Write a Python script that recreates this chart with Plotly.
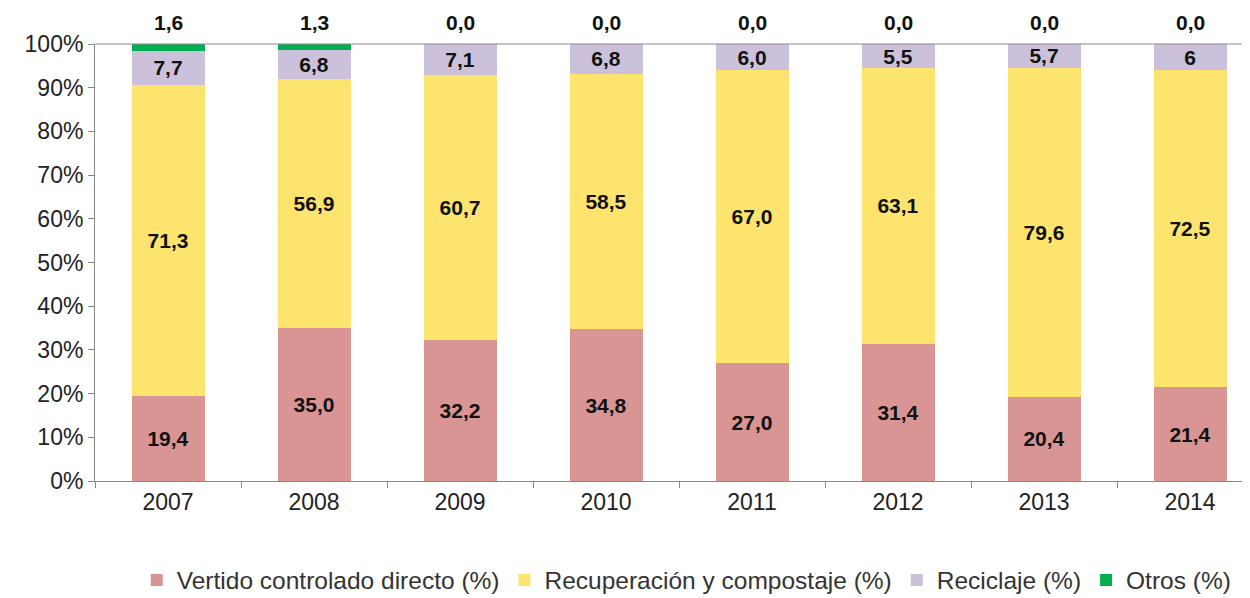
import plotly.graph_objects as go

years = ["2007", "2008", "2009", "2010", "2011", "2012", "2013", "2014"]
vertido = [19.4, 35.0, 32.2, 34.8, 27.0, 31.4, 20.4, 21.4]
recuperacion = [71.3, 56.9, 60.7, 58.5, 67.0, 63.1, 79.6, 72.5]
reciclaje = [7.7, 6.8, 7.1, 6.8, 6.0, 5.5, 5.7, 6.0]
otros = [1.6, 1.3, 0.0, 0.0, 0.0, 0.0, 0.0, 0.0]
y_ticks = [0, 10, 20, 30, 40, 50, 60, 70, 80, 90, 100]

def fmt(v):
    return f"{v:.1f}".replace(".", ",")

rec_labels = [fmt(v) for v in reciclaje]
rec_labels[7] = "6"

font_family = "Liberation Sans, Arial, sans-serif"
lbl_font = dict(family=font_family, size=21, color="#111")

fig = go.Figure()
series = [
    ("Vertido controlado directo (%)", vertido, "#D99594", [fmt(v) for v in vertido]),
    ("Recuperación y compostaje (%)", recuperacion, "#FDE46E", [fmt(v) for v in recuperacion]),
    ("Reciclaje (%)", reciclaje, "#CCC1DA", rec_labels),
    ("Otros (%)", otros, "#00B050", None),
]
for name, vals, col, labels in series:
    fig.add_trace(go.Bar(
        x=years, y=vals, name=name, marker=dict(color=col, line=dict(width=0)),
        text=labels, textposition="inside" if labels else "none",
        insidetextanchor="middle", textangle=0, constraintext="none",
        textfont=lbl_font, insidetextfont=lbl_font,
        texttemplate="<b>%{text}</b>" if labels else None,
        hoverinfo="skip",
    ))

# Otros labels above each stack (normalized total = top of plot area)
annotations = [
    dict(x=i, y=1, xref="x", yref="paper", text="<b>" + fmt(v) + "</b>",
         showarrow=False, yanchor="bottom", yshift=8, font=lbl_font)
    for i, v in enumerate(otros)
]

fig.update_layout(
    width=1250, height=598,
    barmode="stack", barnorm="percent", bargap=0.5,
    plot_bgcolor="white", paper_bgcolor="white",
    margin=dict(l=87, r=2, t=36, b=125, autoexpand=False),
    font=dict(family=font_family, size=23, color="#222"),
    annotations=annotations,
    legend=dict(orientation="h", xref="container", yref="container",
                x=0.543, xanchor="center", y=0.0435, yanchor="middle",
                font=dict(size=24.5, color="#333"), traceorder="normal",
                itemwidth=30, tracegroupgap=0),
    xaxis=dict(range=[-0.5, 7.452], tickmode="array", tickvals=list(range(8)),
               ticktext=years, showline=True, linecolor="#888", linewidth=1,
               ticks="outside", ticklen=6, tickcolor="#888", tickson="boundaries",
               showgrid=False, tickfont=dict(size=23, color="#222")),
    yaxis=dict(range=[0, 100], tickvals=y_ticks, ticktext=[f"{t}%" for t in y_ticks],
               showline=True, linecolor="#888", linewidth=1, ticks="outside", ticklen=6,
               tickcolor="#888", showgrid=False, zeroline=False,
               tickfont=dict(size=23, color="#222")),
    shapes=[dict(type="line", xref="paper", yref="paper", x0=0, x1=1, y0=1, y1=1,
                 line=dict(color="#888", width=1))],
)
fig.update_xaxes(type="category")
fig.write_html("out.html")
